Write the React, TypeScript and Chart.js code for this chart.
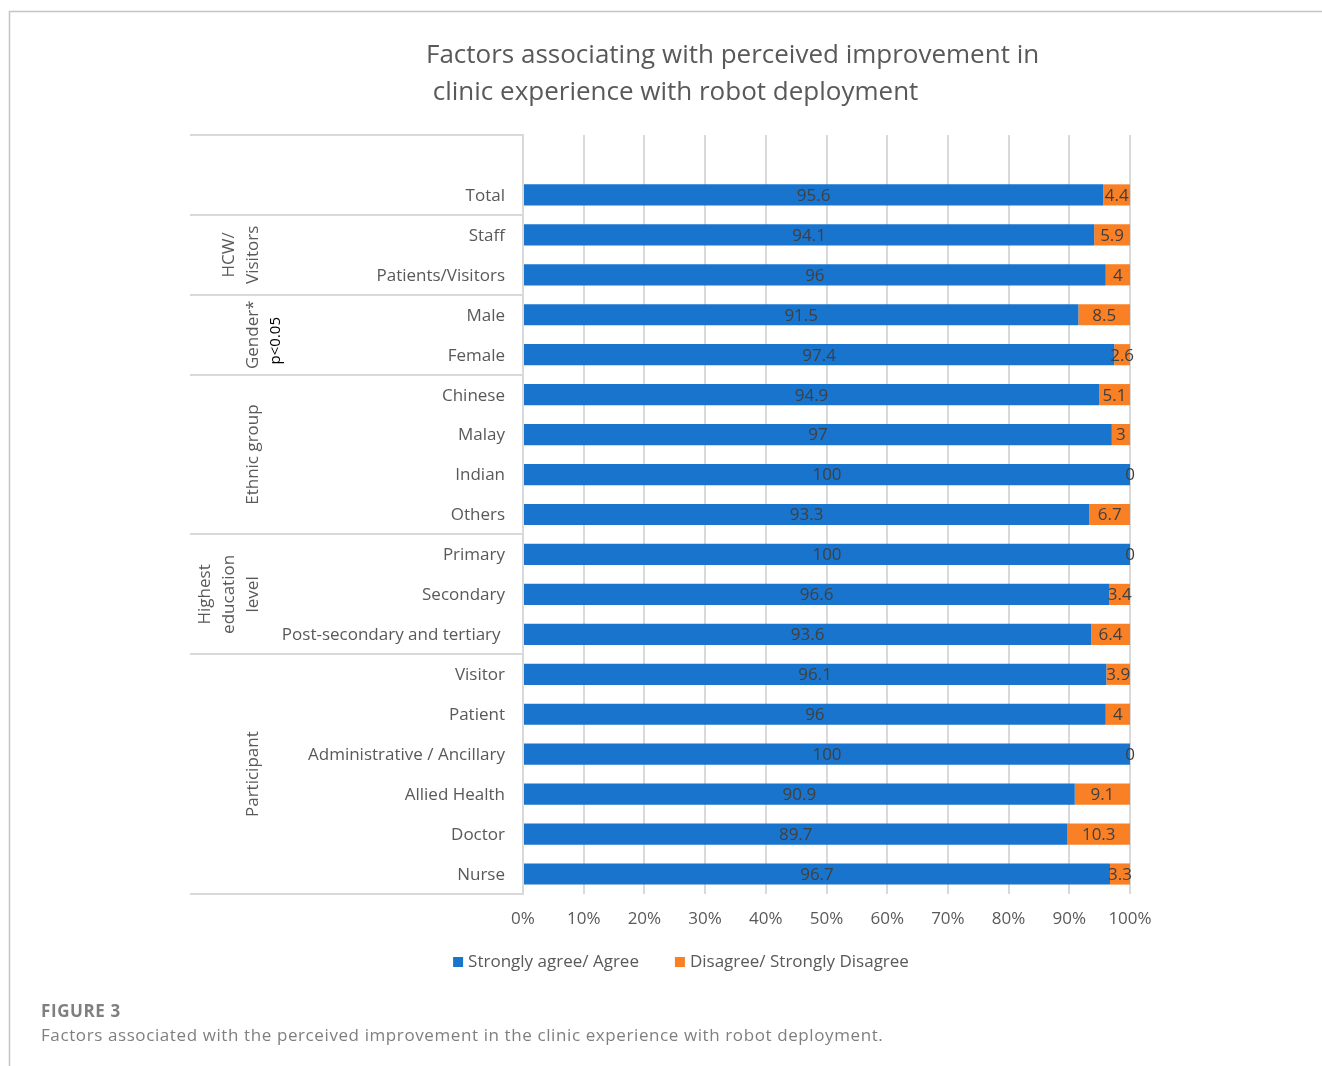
import React, { useEffect, useRef } from "react";
import { Chart, registerables } from "chart.js";

Chart.register(...registerables);

// ---------- data ----------
const categories = [
  "",
  "Total",
  "Staff",
  "Patients/Visitors",
  "Male",
  "Female",
  "Chinese",
  "Malay",
  "Indian",
  "Others",
  "Primary",
  "Secondary",
  "Post-secondary and tertiary ",
  "Visitor",
  "Patient",
  "Administrative / Ancillary",
  "Allied Health",
  "Doctor",
  "Nurse",
];

const agreeValues = [null, 95.6, 94.1, 96, 91.5, 97.4, 94.9, 97, 100, 93.3, 100, 96.6, 93.6, 96.1, 96, 100, 90.9, 89.7, 96.7];
const disagreeValues = [null, 4.4, 5.9, 4, 8.5, 2.6, 5.1, 3, 0, 6.7, 0, 3.4, 6.4, 3.9, 4, 0, 9.1, 10.3, 3.3];

const seriesNames = ["Strongly agree/ Agree", "Disagree/ Strongly Disagree"];

const groupLabels = [["HCW/", "Visitors"], ["Gender*"], ["Ethnic group"], ["Highest", "education", "level"], ["Participant"]];
const groupStart = [2, 4, 6, 10, 13];
const groupEnd = [3, 5, 9, 12, 18];
const significanceNote = "p<0.05";

const titleLines = ["Factors associating with perceived improvement in", " clinic experience with robot deployment"];
const figureLabel = "FIGURE 3";
const figureCaption = "Factors associated with the perceived improvement in the clinic experience with robot deployment.";

// ---------- style ----------
const FONT = "'Open Sans', 'Noto Sans', sans-serif";
const TEXT = "#595959";
const GRID = "#d9d9d9";
const BLUE = "#1874cd";
const ORANGE = "#fa8025";
const SERIES_COLORS = [BLUE, ORANGE];

const decorations = {
  id: "decorations",
  afterDatasetsDraw(chart: any) {
    const { ctx } = chart;
    ctx.save();
    ctx.font = `17px ${FONT}`;
    ctx.fillStyle = "#404040";
    ctx.textAlign = "center";
    ctx.textBaseline = "middle";
    chart.data.datasets.forEach((ds: any, di: number) => {
      const meta = chart.getDatasetMeta(di);
      meta.data.forEach((bar: any, i: number) => {
        const v = ds.data[i];
        if (v === null || v === undefined) return;
        const cx = (bar.x + bar.base) / 2;
        ctx.fillText(String(v), cx, bar.y + 1);
      });
    });
    ctx.restore();
  },
  afterDraw(chart: any) {
    const { ctx, chartArea } = chart;
    const y = chart.scales.y;
    const n = categories.length;
    const edge = (i: number) =>
      i <= 0 ? chartArea.top : i >= n ? chartArea.bottom : (y.getPixelForValue(i - 1) + y.getPixelForValue(i)) / 2;

    ctx.save();
    // frame
    ctx.strokeStyle = "#c4c4c4";
    ctx.lineWidth = 1.5;
    ctx.beginPath();
    ctx.moveTo(9.5, 1066);
    ctx.lineTo(9.5, 11.5);
    ctx.lineTo(1322, 11.5);
    ctx.stroke();

    // label table lines
    ctx.strokeStyle = GRID;
    ctx.lineWidth = 2;
    const bounds = [0, 2, 4, 6, 10, 13, n];
    bounds.forEach((b) => {
      const py = Math.round(edge(b));
      ctx.beginPath();
      ctx.moveTo(190, py);
      ctx.lineTo(chartArea.left, py);
      ctx.stroke();
    });

    // group labels (rotated)
    ctx.fillStyle = TEXT;
    ctx.font = `17px ${FONT}`;
    ctx.textAlign = "center";
    ctx.textBaseline = "middle";
    groupLabels.forEach((lines, gi) => {
      const cy = (edge(groupStart[gi]) + edge(groupEnd[gi] + 1)) / 2;
      lines.forEach((line, li) => {
        const cx = 253 - (lines.length - 1 - li) * 24;
        ctx.save();
        ctx.translate(cx, cy);
        ctx.rotate(-Math.PI / 2);
        ctx.fillText(line, 0, 0);
        ctx.restore();
      });
    });
    // significance note
    ctx.save();
    ctx.fillStyle = "#000000";
    ctx.font = `15px ${FONT}`;
    ctx.translate(276, (edge(groupStart[1]) + edge(groupEnd[1] + 1)) / 2 + 6);
    ctx.rotate(-Math.PI / 2);
    ctx.fillText(significanceNote, 0, 0);
    ctx.restore();

    // legend (custom, centred under the plot)
    ctx.font = `17px ${FONT}`;
    ctx.textAlign = "left";
    ctx.textBaseline = "middle";
    const box = 10;
    const gapText = 5;
    const gapItem = 36;
    const widths = seriesNames.map((s) => box + gapText + ctx.measureText(s).width);
    const total = widths.reduce((a, b) => a + b, 0) + gapItem * (widths.length - 1);
    let lx = 681 - total / 2;
    const ly = 962;
    seriesNames.forEach((s, i) => {
      ctx.fillStyle = SERIES_COLORS[i];
      ctx.fillRect(lx, ly - 5, box, box);
      ctx.fillStyle = TEXT;
      ctx.fillText(s, lx + box + gapText, ly);
      lx += widths[i] + gapItem;
    });

    // title
    ctx.fillStyle = TEXT;
    ctx.font = `26px ${FONT}`;
    ctx.textAlign = "left";
    ctx.fillText(titleLines[0], 426, 56);
    ctx.fillText(titleLines[1], 426, 93);

    // caption
    ctx.fillStyle = "#7f7f7f";
    (ctx as any).letterSpacing = "0.6px";
    ctx.font = `bold 17px ${FONT}`;
    ctx.fillText(figureLabel, 41, 1012);
    ctx.font = `17px ${FONT}`;
    ctx.fillText(figureCaption, 41, 1036);
    (ctx as any).letterSpacing = "0px";
    ctx.restore();
  },
};

export default function App() {
  const canvasRef = useRef<HTMLCanvasElement | null>(null);

  useEffect(() => {
    const canvas = canvasRef.current;
    if (!canvas) return;
    const chart = new Chart(canvas, {
      type: "bar",
      data: {
        labels: categories,
        datasets: [
          {
            label: seriesNames[0],
            data: agreeValues as any,
            backgroundColor: SERIES_COLORS[0],
            borderWidth: 0,
            barPercentage: 0.53,
            categoryPercentage: 1,
          },
          {
            label: seriesNames[1],
            data: disagreeValues as any,
            backgroundColor: SERIES_COLORS[1],
            borderWidth: 0,
            barPercentage: 0.53,
            categoryPercentage: 1,
          },
        ],
      },
      options: {
        indexAxis: "y",
        animation: false,
        responsive: false,
        devicePixelRatio: 1,
        layout: { padding: { top: 135, left: 239, right: 192, bottom: 122 } },
        scales: {
          x: {
            stacked: true,
            min: 0,
            max: 100,
            ticks: {
              stepSize: 10,
              callback: (v: any) => `${v}%`,
              color: TEXT,
              font: { family: FONT, size: 17 },
              padding: 15,
              maxRotation: 0,
            },
            grid: { color: GRID, lineWidth: 2, drawTicks: false },
            border: { display: false },
            afterFit: (s: any) => {
              s.height = 50;
            },
          },
          y: {
            stacked: true,
            ticks: {
              color: TEXT,
              font: { family: FONT, size: 17 },
              padding: 18,
              autoSkip: false,
              labelOffset: 1,
            },
            grid: { display: false, drawTicks: false },
            border: { display: true, color: GRID, width: 2 },
            afterFit: (s: any) => {
              s.width = 284;
            },
          },
        },
        plugins: {
          legend: { display: false },
          title: { display: false },
          tooltip: { enabled: false },
        },
      },
      plugins: [decorations],
    });
    return () => chart.destroy();
  }, []);

  return (
    <div style={{ position: "fixed", left: 0, top: 0, width: 1322, height: 1066, background: "#ffffff" }}>
      <canvas ref={canvasRef} width={1322} height={1066} style={{ width: 1322, height: 1066, display: "block" }} />
    </div>
  );
}
